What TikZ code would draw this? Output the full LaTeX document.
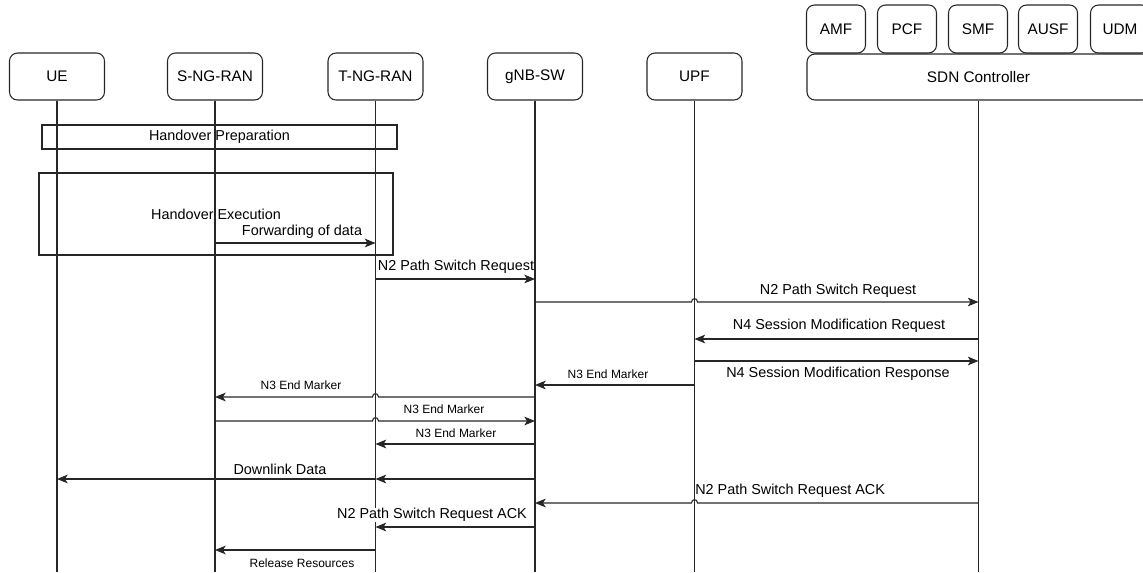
\documentclass[tikz,border=0pt]{standalone}
\usepackage{fontspec}
\setmainfont{Liberation Sans}
\usetikzlibrary{arrows.meta}
\definecolor{ln}{HTML}{262626}
\begin{document}
\begin{tikzpicture}[x=0.75pt,y=-0.75pt,
  every node/.style={inner sep=0pt},
  actor/.style={draw=ln, line width=0.8pt, rounded corners=6pt, minimum width=71.25pt, minimum height=35.25pt, font=\fontsize{11.5}{13}\selectfont},
  nf/.style={draw=ln, line width=0.8pt, rounded corners=6pt, minimum width=44.25pt, minimum height=36pt, font=\fontsize{11.5}{13}\selectfont},
  ctrl/.style={draw=ln, line width=0.8pt, rounded corners=6pt, minimum width=257.25pt, minimum height=34.5pt, font=\fontsize{11.5}{13}\selectfont},
  phase/.style={draw=ln, line width=0.8pt, font=\fontsize{10.8}{13}\selectfont},
  life/.style={draw=ln, line width=0.8pt},
  msg/.style={draw=ln, line width=0.8pt, -{Stealth[length=8pt,width=6.5pt,inset=2pt]}},
  big/.style={font=\fontsize{10.8}{13}\selectfont},
  small/.style={font=\fontsize{9}{11}\selectfont},
]
\useasboundingbox (0,0) rectangle (1143,572);
\clip (0,0) rectangle (1143,572);

% participants
\node[actor] (ue)  at (57,76.5)    {UE};
\node[actor] (sng) at (215,76.5)   {S-NG-RAN};
\node[actor] (tng) at (375.5,76.5) {T-NG-RAN};
\node[actor] (gnb) at (535,76.5)   {gNB-SW};
\node[actor] (upf) at (694.5,76.5) {UPF};
\node[ctrl]  (sdn) at (978.5,77)   {SDN Controller};
\node[nf] (amf)  at (836,29)  {AMF};
\node[nf] (pcf)  at (907,29)  {PCF};
\node[nf] (smf)  at (978,29)  {SMF};
\node[nf] (ausf) at (1048,29) {AUSF};
\node[nf] (udm)  at (1120,29) {UDM};

% phases
\node[phase, minimum width=266.25pt, minimum height=18pt] (prep) at (219.5,137) {Handover Preparation};
\node[phase, minimum width=265.5pt, minimum height=61.5pt] (exec) at (216,214) {Handover Execution};

% lifelines
\foreach \n in {ue,sng,tng,gnb,upf,sdn}
  \draw[life] (\n.south) -- (\n.south |- 0,572);

% messages
\draw[msg] (sng |- 0,243) -- (tng |- 0,243);
\node[big] (m0) at (302,232) {Forwarding of data};

\draw[msg] (tng |- 0,279) -- (gnb |- 0,279);
\node[big] (m1) at (456,267) {N2 Path Switch Request};

\draw[msg] (gnb |- 0,302) -- (691.5,302) .. controls (691.5,297.5) and (697.5,297.5) .. (697.5,302) -- (sdn |- 0,302);
\node[big] (m2) at (838,291) {N2 Path Switch Request};

\draw[msg] (sdn |- 0,339) -- (upf |- 0,339);
\node[big] (m3) at (839,326) {N4 Session Modification Request};

\draw[msg] (upf |- 0,361) -- (sdn |- 0,361);
\node[big] (m4) at (838,374) {N4 Session Modification Response};

\draw[msg] (upf |- 0,385) -- (gnb |- 0,385);
\node[small] (m5) at (608,374) {N3 End Marker};

\draw[msg] (gnb |- 0,397) -- (378.5,397) .. controls (378.5,392.5) and (372.5,392.5) .. (372.5,397) -- (sng |- 0,397);
\node[small] (m6) at (301,385) {N3 End Marker};

\draw[msg] (sng |- 0,421) -- (372.5,421) .. controls (372.5,416.5) and (378.5,416.5) .. (378.5,421) -- (gnb |- 0,421);
\node[small] (m7) at (444,409) {N3 End Marker};

\draw[msg] (gnb |- 0,444) -- (tng |- 0,444);
\node[small] (m8) at (456,433) {N3 End Marker};

\draw[msg] (gnb |- 0,479) -- (tng |- 0,479);
\draw[msg] (tng |- 0,479) -- (ue |- 0,479);
\node[big] (m9) at (280,469) {Downlink Data};

\draw[msg] (sdn |- 0,503) -- (697.5,503) .. controls (697.5,498.5) and (691.5,498.5) .. (691.5,503) -- (gnb |- 0,503);
\node[big, anchor=west] (m10) at (695,491) {N2 Path Switch Request ACK};

\draw[msg] (gnb |- 0,527) -- (tng |- 0,527);
\node[big, fill=white] (m11) at (432,515) {N2 Path Switch Request ACK};

\draw[msg] (tng |- 0,550) -- (sng |- 0,550);
\node[small] (m12) at (302,563) {Release Resources};
\end{tikzpicture}
\end{document}
